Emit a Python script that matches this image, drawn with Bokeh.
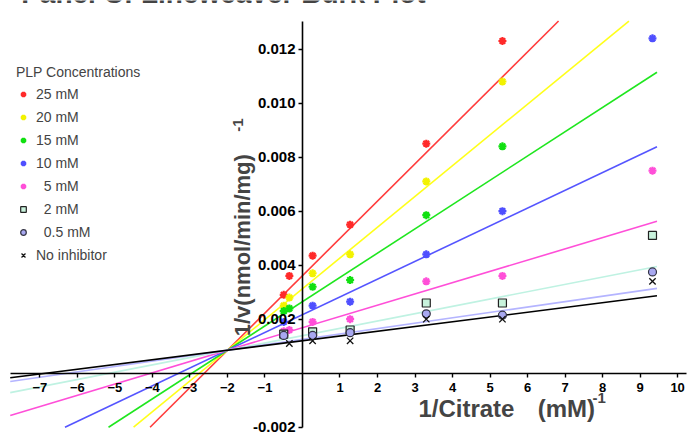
import math
from bokeh.plotting import figure
from bokeh.models import Range1d, FixedTicker, NumeralTickFormatter, Label, Legend, LegendItem
from bokeh.embed import file_html
from bokeh.resources import INLINE

nan = float("nan")

# x values: 1/[Citrate] (mM^-1)
citrate_inv = [-0.5, -0.35, 0.27, 1.27, 3.3, 5.33, 9.33]

series_names = ["25 mM", "20 mM", "15 mM", "10 mM", "  5 mM", "  2 mM", "  0.5 mM", "No inhibitor"]

inv_v_25mM = [0.0029, 0.0036, 0.00435, 0.0055, 0.0085, 0.0123, nan]
inv_v_20mM = [0.0025, 0.0028, 0.0037, 0.0044, 0.0071, 0.0108, nan]
inv_v_15mM = [0.0023, 0.0024, 0.0032, 0.00345, 0.00585, 0.0084, nan]
inv_v_10mM = [0.0019, nan, 0.0025, 0.00265, 0.0044, 0.0060, 0.0124]
inv_v_5mM = [0.00155, 0.0016, 0.0019, 0.0020, 0.0034, 0.0036, 0.0075]
inv_v_2mM = [0.00145, nan, 0.00153, 0.0016, 0.0026, 0.0026, 0.0051]
inv_v_05mM = [0.0014, nan, 0.0014, 0.0015, 0.0022, 0.00215, 0.00375]
inv_v_none = [nan, 0.0011, 0.0012, 0.0012, 0.0020, 0.0020, 0.0034]

# fitted lines (slope, intercept at x=0)
fit_slopes = [0.001381, 0.001139, 0.000899, 0.000658, 0.000417, 0.000271, 0.000200, 0.000176]
fit_intercepts = [0.003612, 0.003128, 0.002648, 0.002166, 0.001684, 0.001392, 0.00125, 0.001202]
fit_x_end = 9.45

x_ticks = [-7, -6, -5, -4, -3, -2, -1, 1, 2, 3, 4, 5, 6, 7, 8, 9, 10]
y_ticks = [-0.002, 0.002, 0.004, 0.006, 0.008, 0.010, 0.012]

series_values = [inv_v_25mM, inv_v_20mM, inv_v_15mM, inv_v_10mM, inv_v_5mM, inv_v_2mM, inv_v_05mM, inv_v_none]

line_colors = ["#ff3c3c", "#ffff1a", "#1fe61f", "#5555ff", "#ff4fd8", "#bff2e2", "#b4b4ff", "#000000"]
marker_styles = [
    dict(marker="asterisk", line_color="#ff2a2a", size=8, line_width=2.2),
    dict(marker="asterisk", line_color="#f2f200", size=8, line_width=2.2),
    dict(marker="asterisk", line_color="#10e010", size=8, line_width=2.2),
    dict(marker="asterisk", line_color="#4f4fff", size=8, line_width=2.2),
    dict(marker="asterisk", line_color="#ff4fd8", size=8, line_width=2.2),
    dict(marker="square", fill_color="#c8f2dc", line_color="#222222", size=8, line_width=1.2),
    dict(marker="circle", fill_color="#a8a8f0", line_color="#333344", size=8, line_width=1.2),
    dict(marker="x", line_color="#111111", size=9, line_width=1.3),
]

X_MIN, X_MAX = -8.05, 10.29
Y_MIN, Y_MAX = -0.00227, 0.0138
X_AX_BOUNDS = (-7.79, 10.25)
Y_AX_BOUNDS = (-0.002, 0.01304)

p = figure(width=688, height=434, output_backend="svg", toolbar_location=None,
           x_range=Range1d(X_MIN, X_MAX), y_range=Range1d(Y_MIN, Y_MAX),
           min_border_left=0, min_border_right=0, min_border_top=0, min_border_bottom=0,
           outline_line_color=None)
p.grid.visible = False

FONT = "Liberation Sans"

xa = p.xaxis[0]
xa.fixed_location = 0
xa.bounds = X_AX_BOUNDS
xa.ticker = FixedTicker(ticks=x_ticks)
ya = p.yaxis[0]
ya.fixed_location = 0
ya.bounds = Y_AX_BOUNDS
ya.ticker = FixedTicker(ticks=y_ticks)
ya.formatter = NumeralTickFormatter(format="0.000")
for ax, fs, so in ((xa, "13px", 6), (ya, "15px", 3)):
    ax.axis_line_color = "black"
    ax.axis_line_width = 1.6
    ax.major_tick_line_color = "black"
    ax.major_tick_line_width = 1.4
    ax.major_tick_in = 0
    ax.major_tick_out = 4
    ax.minor_tick_line_color = None
    ax.major_label_text_font = FONT
    ax.major_label_text_font_style = "bold"
    ax.major_label_text_font_size = fs
    ax.major_label_text_color = "black"
    ax.major_label_standoff = so

# fitted lines, clipped to the y-axis bounds
y_lo, y_hi = Y_AX_BOUNDS
for m, b, c in zip(fit_slopes, fit_intercepts, line_colors):
    x0 = max(X_AX_BOUNDS[0], (y_lo - b) / m)
    x1 = min(fit_x_end, (y_hi - b) / m)
    p.line([x0, x1], [m * x0 + b, m * x1 + b], line_color=c, line_width=1.6)

items = []
for name, vals, st in zip(series_names, series_values, marker_styles):
    r = p.scatter(citrate_inv, vals, **st)
    items.append(LegendItem(label=name, renderers=[r]))

legend = Legend(items=items, location=(16, 169), title="PLP Concentrations",
                title_text_font=FONT, title_text_font_size="14px", title_text_font_style="normal",
                label_text_font=FONT, label_text_font_size="14px",
                glyph_width=14, glyph_height=20, label_height=20, spacing=3,
                label_standoff=6, padding=0, margin=0, title_standoff=4,
                border_line_color=None, background_fill_alpha=0)
p.add_layout(legend, "center")

# axis titles
p.add_layout(Label(x=-1.6, y=0.00474, text="1/v(nmol/min/mg)", angle=math.pi / 2,
                   text_align="center", text_baseline="middle", text_font=FONT,
                   text_font_style="bold", text_font_size="22px"))
p.add_layout(Label(x=-1.73, y=0.00919, text="-1", angle=math.pi / 2,
                   text_align="center", text_baseline="middle", text_font=FONT,
                   text_font_style="bold", text_font_size="15px"))
p.add_layout(Label(x=3.09, y=-0.0013, text="1/Citrate", text_align="left",
                   text_baseline="alphabetic", text_font=FONT,
                   text_font_style="bold", text_font_size="24px"))
p.add_layout(Label(x=6.27, y=-0.0013, text="(mM)", text_align="left",
                   text_baseline="alphabetic", text_font=FONT,
                   text_font_style="bold", text_font_size="24px"))
p.add_layout(Label(x=7.73, y=-0.0009, text="-1", text_align="left",
                   text_baseline="alphabetic", text_font=FONT,
                   text_font_style="bold", text_font_size="15px"))
# chart title (cut off at the top edge in the original)
p.add_layout(Label(x=-7.5, y=0.01405, text="Panel C: Lineweaver Burk Plot", text_align="left",
                   text_baseline="alphabetic", text_font=FONT,
                   text_font_style="bold", text_font_size="28px"))

open("out.html", "w").write(file_html(p, INLINE))
